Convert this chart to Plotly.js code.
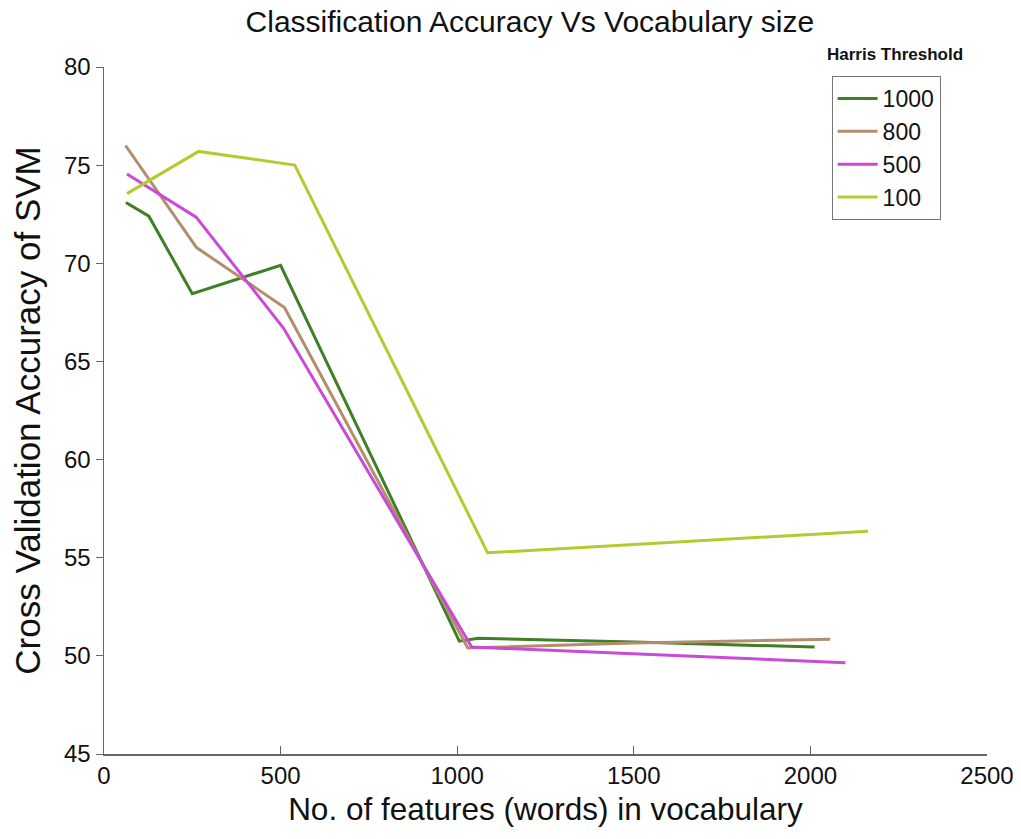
<!DOCTYPE html>
<html>
<head>
<meta charset="utf-8">
<script src="https://cdn.plot.ly/plotly-3.0.1.min.js"></script>
<style>html,body{margin:0;padding:0;background:#fff;}#chart{width:1021px;height:839px;}</style>
</head>
<body>
<div id="chart"></div>
<script>
// Data
const seriesNames = ["1000", "800", "500", "100"];
const x1000 = [62, 127, 250, 500, 1006, 1060, 1500, 2012];
const y1000 = [73.1, 72.4, 68.45, 69.9, 50.75, 50.9, 50.7, 50.45];
const x800 = [61, 262, 511, 1030, 1500, 2056];
const y800 = [76.0, 70.8, 67.75, 50.4, 50.65, 50.85];
const x500 = [65, 261, 508, 1041, 2099];
const y500 = [74.55, 72.35, 66.7, 50.45, 49.65];
const x100 = [65, 268, 540, 1086, 2163];
const y100 = [73.55, 75.7, 75.0, 55.25, 56.35];
const xTicks = [0, 500, 1000, 1500, 2000, 2500];
const yTicks = [45, 50, 55, 60, 65, 70, 75, 80];

const colors = ["#3f7f26", "#b38e6c", "#c94ad6", "#b6c92f"];
const xs = [x1000, x800, x500, x100];
const ys = [y1000, y800, y500, y100];

const traces = seriesNames.map((n, i) => ({
  type: "scatter", mode: "lines", name: n,
  x: xs[i], y: ys[i],
  line: {color: colors[i], width: 3}
}));

const font = "Liberation Sans, Arial, Helvetica, sans-serif";
const layout = {
  width: 1021, height: 839,
  margin: {l: 104, r: 34, t: 67, b: 85},
  paper_bgcolor: "#fff", plot_bgcolor: "#fff",
  font: {family: font, color: "#111", size: 20},
  title: {text: "Classification Accuracy Vs Vocabulary size", font: {size: 30, family: font, color: "#111"},
          x: 0.519, xanchor: "center", y: 0.974, yanchor: "middle"},
  xaxis: {
    range: [0, 2500], tickvals: xTicks, ticktext: xTicks.map(String),
    showgrid: false, zeroline: false, showline: true, linecolor: "#666", linewidth: 1.5,
    ticks: "inside", ticklen: 8, tickcolor: "#666", tickwidth: 1,
    tickfont: {size: 24, family: font, color: "#111"},
    title: {text: "No. of features (words) in vocabulary", font: {size: 31.5, family: font, color: "#111"}, standoff: 9}
  },
  yaxis: {
    range: [45, 80], tickvals: yTicks, ticktext: yTicks.map(String),
    showgrid: false, zeroline: false, showline: true, linecolor: "#666", linewidth: 1.5,
    ticks: "outside", ticklen: 7, tickcolor: "#666", tickwidth: 1,
    tickfont: {size: 24, family: font, color: "#111"}
  },
  legend: {
    x: 0.824, y: 0.987, xanchor: "left", yanchor: "top",
    bgcolor: "#fff", bordercolor: "#777", borderwidth: 1,
    font: {size: 23, family: font, color: "#111"},
    tracegroupgap: 0, itemwidth: 40
  },
  annotations: [{
    text: "<b>Harris Threshold</b>", xref: "paper", yref: "paper",
    x: 0.816, y: 1.002, xanchor: "left", yanchor: "bottom", showarrow: false,
    font: {size: 17, family: font, color: "#111"}
  }, {
    text: "Cross Validation Accuracy of SVM", xref: "paper", yref: "paper",
    x: -0.087, y: 0.5, xanchor: "center", yanchor: "middle", textangle: -90, showarrow: false,
    font: {size: 35, family: font, color: "#111"}
  }],
  showlegend: true
};

Plotly.newPlot("chart", traces, layout, {displayModeBar: false, staticPlot: true});
</script>
</body>
</html>
